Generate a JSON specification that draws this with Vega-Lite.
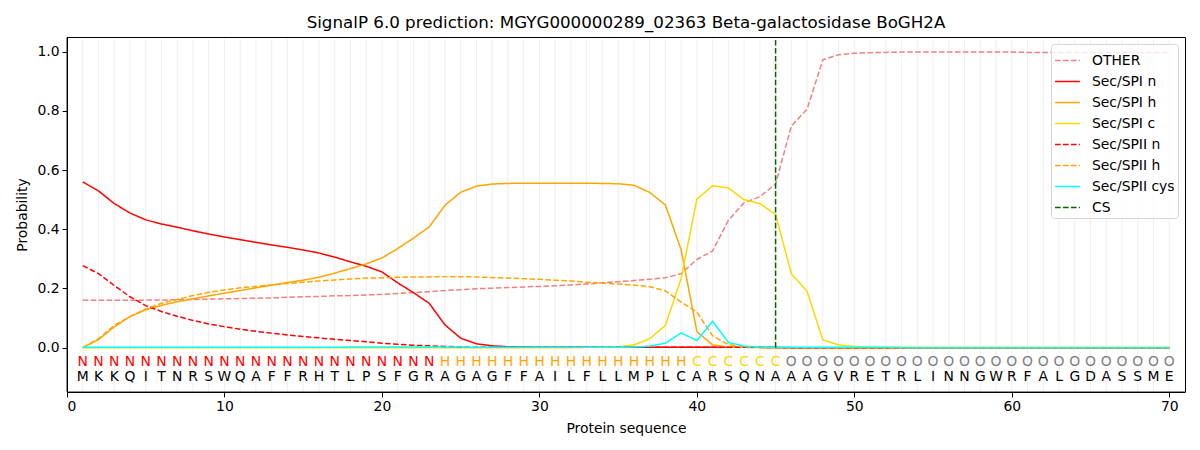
{
  "$schema": "https://vega.github.io/schema/vega-lite/v6.json",
  "width": 1118,
  "height": 355,
  "autosize": {"type": "none"},
  "padding": {"left": 67, "top": 37, "right": 15, "bottom": 58},
  "title": {
    "text": "SignalP 6.0 prediction: MGYG000000289_02363 Beta-galactosidase BoGH2A",
    "fontSize": 16.7,
    "fontWeight": "normal",
    "font": "DejaVu Sans",
    "color": "black",
    "offset": 5
  },
  "config": {
    "view": {"stroke": null},
    "font": "DejaVu Sans",
    "axis": {
      "grid": false,
      "domainColor": "black",
      "tickColor": "black",
      "labelColor": "black",
      "titleColor": "black",
      "labelFontSize": 13.9,
      "titleFontSize": 13.9,
      "titleFontWeight": "normal",
      "tickSize": 4.9,
      "labelPadding": 3,
      "labelFont": "DejaVu Sans",
      "titleFont": "DejaVu Sans"
    }
  },
  "datasets": {
    "seq": [
      {"pos": 1, "aa": "M", "lab": "N", "OTHER": 0.160, "Sec/SPI n": 0.560, "Sec/SPI h": 0.000, "Sec/SPI c": 0.000, "Sec/SPII n": 0.277, "Sec/SPII h": 0.000, "Sec/SPII cys": 0.001},
      {"pos": 2, "aa": "K", "lab": "N", "OTHER": 0.160, "Sec/SPI n": 0.530, "Sec/SPI h": 0.027, "Sec/SPI c": 0.000, "Sec/SPII n": 0.250, "Sec/SPII h": 0.030, "Sec/SPII cys": 0.001},
      {"pos": 3, "aa": "K", "lab": "N", "OTHER": 0.160, "Sec/SPI n": 0.487, "Sec/SPI h": 0.070, "Sec/SPI c": 0.000, "Sec/SPII n": 0.210, "Sec/SPII h": 0.075, "Sec/SPII cys": 0.001},
      {"pos": 4, "aa": "Q", "lab": "N", "OTHER": 0.160, "Sec/SPI n": 0.455, "Sec/SPI h": 0.105, "Sec/SPI c": 0.000, "Sec/SPII n": 0.172, "Sec/SPII h": 0.105, "Sec/SPII cys": 0.001},
      {"pos": 5, "aa": "I", "lab": "N", "OTHER": 0.161, "Sec/SPI n": 0.432, "Sec/SPI h": 0.128, "Sec/SPI c": 0.000, "Sec/SPII n": 0.142, "Sec/SPII h": 0.130, "Sec/SPII cys": 0.001},
      {"pos": 6, "aa": "T", "lab": "N", "OTHER": 0.161, "Sec/SPI n": 0.418, "Sec/SPI h": 0.143, "Sec/SPI c": 0.000, "Sec/SPII n": 0.122, "Sec/SPII h": 0.150, "Sec/SPII cys": 0.001},
      {"pos": 7, "aa": "N", "lab": "N", "OTHER": 0.162, "Sec/SPI n": 0.407, "Sec/SPI h": 0.155, "Sec/SPI c": 0.000, "Sec/SPII n": 0.106, "Sec/SPII h": 0.163, "Sec/SPII cys": 0.001},
      {"pos": 8, "aa": "R", "lab": "N", "OTHER": 0.163, "Sec/SPI n": 0.395, "Sec/SPI h": 0.165, "Sec/SPI c": 0.000, "Sec/SPII n": 0.092, "Sec/SPII h": 0.176, "Sec/SPII cys": 0.001},
      {"pos": 9, "aa": "S", "lab": "N", "OTHER": 0.164, "Sec/SPI n": 0.384, "Sec/SPI h": 0.175, "Sec/SPI c": 0.000, "Sec/SPII n": 0.080, "Sec/SPII h": 0.187, "Sec/SPII cys": 0.001},
      {"pos": 10, "aa": "W", "lab": "N", "OTHER": 0.165, "Sec/SPI n": 0.374, "Sec/SPI h": 0.184, "Sec/SPI c": 0.000, "Sec/SPII n": 0.071, "Sec/SPII h": 0.195, "Sec/SPII cys": 0.001},
      {"pos": 11, "aa": "Q", "lab": "N", "OTHER": 0.166, "Sec/SPI n": 0.365, "Sec/SPI h": 0.193, "Sec/SPI c": 0.000, "Sec/SPII n": 0.062, "Sec/SPII h": 0.202, "Sec/SPII cys": 0.001},
      {"pos": 12, "aa": "A", "lab": "N", "OTHER": 0.167, "Sec/SPI n": 0.356, "Sec/SPI h": 0.202, "Sec/SPI c": 0.000, "Sec/SPII n": 0.055, "Sec/SPII h": 0.207, "Sec/SPII cys": 0.001},
      {"pos": 13, "aa": "F", "lab": "N", "OTHER": 0.168, "Sec/SPI n": 0.347, "Sec/SPI h": 0.211, "Sec/SPI c": 0.000, "Sec/SPII n": 0.049, "Sec/SPII h": 0.212, "Sec/SPII cys": 0.001},
      {"pos": 14, "aa": "F", "lab": "N", "OTHER": 0.170, "Sec/SPI n": 0.339, "Sec/SPI h": 0.220, "Sec/SPI c": 0.000, "Sec/SPII n": 0.043, "Sec/SPII h": 0.217, "Sec/SPII cys": 0.001},
      {"pos": 15, "aa": "R", "lab": "N", "OTHER": 0.172, "Sec/SPI n": 0.330, "Sec/SPI h": 0.228, "Sec/SPI c": 0.000, "Sec/SPII n": 0.038, "Sec/SPII h": 0.221, "Sec/SPII cys": 0.001},
      {"pos": 16, "aa": "H", "lab": "N", "OTHER": 0.173, "Sec/SPI n": 0.320, "Sec/SPI h": 0.238, "Sec/SPI c": 0.000, "Sec/SPII n": 0.033, "Sec/SPII h": 0.225, "Sec/SPII cys": 0.001},
      {"pos": 17, "aa": "T", "lab": "N", "OTHER": 0.175, "Sec/SPI n": 0.306, "Sec/SPI h": 0.252, "Sec/SPI c": 0.000, "Sec/SPII n": 0.028, "Sec/SPII h": 0.229, "Sec/SPII cys": 0.001},
      {"pos": 18, "aa": "L", "lab": "N", "OTHER": 0.176, "Sec/SPI n": 0.290, "Sec/SPI h": 0.267, "Sec/SPI c": 0.000, "Sec/SPII n": 0.024, "Sec/SPII h": 0.232, "Sec/SPII cys": 0.002},
      {"pos": 19, "aa": "P", "lab": "N", "OTHER": 0.178, "Sec/SPI n": 0.275, "Sec/SPI h": 0.283, "Sec/SPI c": 0.000, "Sec/SPII n": 0.020, "Sec/SPII h": 0.235, "Sec/SPII cys": 0.002},
      {"pos": 20, "aa": "S", "lab": "N", "OTHER": 0.180, "Sec/SPI n": 0.256, "Sec/SPI h": 0.303, "Sec/SPI c": 0.000, "Sec/SPII n": 0.015, "Sec/SPII h": 0.236, "Sec/SPII cys": 0.002},
      {"pos": 21, "aa": "F", "lab": "N", "OTHER": 0.183, "Sec/SPI n": 0.219, "Sec/SPI h": 0.335, "Sec/SPI c": 0.000, "Sec/SPII n": 0.011, "Sec/SPII h": 0.238, "Sec/SPII cys": 0.002},
      {"pos": 22, "aa": "G", "lab": "N", "OTHER": 0.186, "Sec/SPI n": 0.186, "Sec/SPI h": 0.370, "Sec/SPI c": 0.000, "Sec/SPII n": 0.008, "Sec/SPII h": 0.239, "Sec/SPII cys": 0.002},
      {"pos": 23, "aa": "R", "lab": "N", "OTHER": 0.189, "Sec/SPI n": 0.150, "Sec/SPI h": 0.408, "Sec/SPI c": 0.000, "Sec/SPII n": 0.006, "Sec/SPII h": 0.239, "Sec/SPII cys": 0.002},
      {"pos": 24, "aa": "A", "lab": "H", "OTHER": 0.193, "Sec/SPI n": 0.077, "Sec/SPI h": 0.481, "Sec/SPI c": 0.000, "Sec/SPII n": 0.004, "Sec/SPII h": 0.240, "Sec/SPII cys": 0.002},
      {"pos": 25, "aa": "G", "lab": "H", "OTHER": 0.196, "Sec/SPI n": 0.032, "Sec/SPI h": 0.525, "Sec/SPI c": 0.000, "Sec/SPII n": 0.002, "Sec/SPII h": 0.240, "Sec/SPII cys": 0.002},
      {"pos": 26, "aa": "A", "lab": "H", "OTHER": 0.199, "Sec/SPI n": 0.013, "Sec/SPI h": 0.546, "Sec/SPI c": 0.000, "Sec/SPII n": 0.001, "Sec/SPII h": 0.239, "Sec/SPII cys": 0.001},
      {"pos": 27, "aa": "G", "lab": "H", "OTHER": 0.201, "Sec/SPI n": 0.006, "Sec/SPI h": 0.553, "Sec/SPI c": 0.000, "Sec/SPII n": 0.001, "Sec/SPII h": 0.237, "Sec/SPII cys": 0.001},
      {"pos": 28, "aa": "F", "lab": "H", "OTHER": 0.203, "Sec/SPI n": 0.003, "Sec/SPI h": 0.555, "Sec/SPI c": 0.000, "Sec/SPII n": 0.001, "Sec/SPII h": 0.235, "Sec/SPII cys": 0.001},
      {"pos": 29, "aa": "F", "lab": "H", "OTHER": 0.205, "Sec/SPI n": 0.002, "Sec/SPI h": 0.556, "Sec/SPI c": 0.000, "Sec/SPII n": 0.001, "Sec/SPII h": 0.233, "Sec/SPII cys": 0.001},
      {"pos": 30, "aa": "A", "lab": "H", "OTHER": 0.207, "Sec/SPI n": 0.001, "Sec/SPI h": 0.556, "Sec/SPI c": 0.000, "Sec/SPII n": 0.001, "Sec/SPII h": 0.231, "Sec/SPII cys": 0.001},
      {"pos": 31, "aa": "I", "lab": "H", "OTHER": 0.209, "Sec/SPI n": 0.001, "Sec/SPI h": 0.556, "Sec/SPI c": 0.000, "Sec/SPII n": 0.001, "Sec/SPII h": 0.228, "Sec/SPII cys": 0.001},
      {"pos": 32, "aa": "L", "lab": "H", "OTHER": 0.212, "Sec/SPI n": 0.001, "Sec/SPI h": 0.556, "Sec/SPI c": 0.000, "Sec/SPII n": 0.001, "Sec/SPII h": 0.225, "Sec/SPII cys": 0.001},
      {"pos": 33, "aa": "F", "lab": "H", "OTHER": 0.215, "Sec/SPI n": 0.001, "Sec/SPI h": 0.556, "Sec/SPI c": 0.001, "Sec/SPII n": 0.001, "Sec/SPII h": 0.221, "Sec/SPII cys": 0.001},
      {"pos": 34, "aa": "L", "lab": "H", "OTHER": 0.219, "Sec/SPI n": 0.001, "Sec/SPI h": 0.555, "Sec/SPI c": 0.002, "Sec/SPII n": 0.001, "Sec/SPII h": 0.218, "Sec/SPII cys": 0.001},
      {"pos": 35, "aa": "L", "lab": "H", "OTHER": 0.223, "Sec/SPI n": 0.001, "Sec/SPI h": 0.554, "Sec/SPI c": 0.003, "Sec/SPII n": 0.001, "Sec/SPII h": 0.215, "Sec/SPII cys": 0.001},
      {"pos": 36, "aa": "M", "lab": "H", "OTHER": 0.227, "Sec/SPI n": 0.001, "Sec/SPI h": 0.549, "Sec/SPI c": 0.009, "Sec/SPII n": 0.001, "Sec/SPII h": 0.211, "Sec/SPII cys": 0.002},
      {"pos": 37, "aa": "P", "lab": "H", "OTHER": 0.231, "Sec/SPI n": 0.001, "Sec/SPI h": 0.525, "Sec/SPI c": 0.030, "Sec/SPII n": 0.001, "Sec/SPII h": 0.206, "Sec/SPII cys": 0.005},
      {"pos": 38, "aa": "L", "lab": "H", "OTHER": 0.236, "Sec/SPI n": 0.001, "Sec/SPI h": 0.482, "Sec/SPI c": 0.075, "Sec/SPII n": 0.001, "Sec/SPII h": 0.192, "Sec/SPII cys": 0.015},
      {"pos": 39, "aa": "C", "lab": "H", "OTHER": 0.250, "Sec/SPI n": 0.001, "Sec/SPI h": 0.331, "Sec/SPI c": 0.233, "Sec/SPII n": 0.001, "Sec/SPII h": 0.154, "Sec/SPII cys": 0.050},
      {"pos": 40, "aa": "A", "lab": "C", "OTHER": 0.298, "Sec/SPI n": 0.001, "Sec/SPI h": 0.054, "Sec/SPI c": 0.502, "Sec/SPII n": 0.001, "Sec/SPII h": 0.120, "Sec/SPII cys": 0.024},
      {"pos": 41, "aa": "R", "lab": "C", "OTHER": 0.327, "Sec/SPI n": 0.001, "Sec/SPI h": 0.009, "Sec/SPI c": 0.547, "Sec/SPII n": 0.001, "Sec/SPII h": 0.040, "Sec/SPII cys": 0.089},
      {"pos": 42, "aa": "S", "lab": "C", "OTHER": 0.430, "Sec/SPI n": 0.001, "Sec/SPI h": 0.002, "Sec/SPI c": 0.540, "Sec/SPII n": 0.001, "Sec/SPII h": 0.010, "Sec/SPII cys": 0.018},
      {"pos": 43, "aa": "Q", "lab": "C", "OTHER": 0.490, "Sec/SPI n": 0.001, "Sec/SPI h": 0.001, "Sec/SPI c": 0.500, "Sec/SPII n": 0.001, "Sec/SPII h": 0.003, "Sec/SPII cys": 0.005},
      {"pos": 44, "aa": "N", "lab": "C", "OTHER": 0.510, "Sec/SPI n": 0.001, "Sec/SPI h": 0.000, "Sec/SPI c": 0.487, "Sec/SPII n": 0.001, "Sec/SPII h": 0.001, "Sec/SPII cys": 0.002},
      {"pos": 45, "aa": "A", "lab": "C", "OTHER": 0.553, "Sec/SPI n": 0.001, "Sec/SPI h": 0.000, "Sec/SPI c": 0.450, "Sec/SPII n": 0.000, "Sec/SPII h": 0.000, "Sec/SPII cys": 0.001},
      {"pos": 46, "aa": "A", "lab": "O", "OTHER": 0.749, "Sec/SPI n": 0.000, "Sec/SPI h": 0.000, "Sec/SPI c": 0.250, "Sec/SPII n": 0.000, "Sec/SPII h": 0.000, "Sec/SPII cys": 0.001},
      {"pos": 47, "aa": "A", "lab": "O", "OTHER": 0.806, "Sec/SPI n": 0.000, "Sec/SPI h": 0.000, "Sec/SPI c": 0.190, "Sec/SPII n": 0.000, "Sec/SPII h": 0.000, "Sec/SPII cys": 0.001},
      {"pos": 48, "aa": "G", "lab": "O", "OTHER": 0.973, "Sec/SPI n": 0.000, "Sec/SPI h": 0.000, "Sec/SPI c": 0.026, "Sec/SPII n": 0.000, "Sec/SPII h": 0.000, "Sec/SPII cys": 0.001},
      {"pos": 49, "aa": "V", "lab": "O", "OTHER": 0.990, "Sec/SPI n": 0.000, "Sec/SPI h": 0.000, "Sec/SPI c": 0.009, "Sec/SPII n": 0.000, "Sec/SPII h": 0.000, "Sec/SPII cys": 0.001},
      {"pos": 50, "aa": "R", "lab": "O", "OTHER": 0.995, "Sec/SPI n": 0.000, "Sec/SPI h": 0.000, "Sec/SPI c": 0.004, "Sec/SPII n": 0.000, "Sec/SPII h": 0.000, "Sec/SPII cys": 0.001},
      {"pos": 51, "aa": "E", "lab": "O", "OTHER": 0.997, "Sec/SPI n": 0.000, "Sec/SPI h": 0.000, "Sec/SPI c": 0.002, "Sec/SPII n": 0.000, "Sec/SPII h": 0.000, "Sec/SPII cys": 0.001},
      {"pos": 52, "aa": "T", "lab": "O", "OTHER": 0.998, "Sec/SPI n": 0.000, "Sec/SPI h": 0.000, "Sec/SPI c": 0.001, "Sec/SPII n": 0.000, "Sec/SPII h": 0.000, "Sec/SPII cys": 0.001},
      {"pos": 53, "aa": "R", "lab": "O", "OTHER": 0.999, "Sec/SPI n": 0.000, "Sec/SPI h": 0.000, "Sec/SPI c": 0.001, "Sec/SPII n": 0.000, "Sec/SPII h": 0.000, "Sec/SPII cys": 0.000},
      {"pos": 54, "aa": "L", "lab": "O", "OTHER": 0.999, "Sec/SPI n": 0.000, "Sec/SPI h": 0.000, "Sec/SPI c": 0.001, "Sec/SPII n": 0.000, "Sec/SPII h": 0.000, "Sec/SPII cys": 0.000},
      {"pos": 55, "aa": "I", "lab": "O", "OTHER": 0.999, "Sec/SPI n": 0.000, "Sec/SPI h": 0.000, "Sec/SPI c": 0.001, "Sec/SPII n": 0.000, "Sec/SPII h": 0.000, "Sec/SPII cys": 0.000},
      {"pos": 56, "aa": "N", "lab": "O", "OTHER": 0.999, "Sec/SPI n": 0.000, "Sec/SPI h": 0.000, "Sec/SPI c": 0.001, "Sec/SPII n": 0.000, "Sec/SPII h": 0.000, "Sec/SPII cys": 0.000},
      {"pos": 57, "aa": "N", "lab": "O", "OTHER": 0.999, "Sec/SPI n": 0.000, "Sec/SPI h": 0.000, "Sec/SPI c": 0.001, "Sec/SPII n": 0.000, "Sec/SPII h": 0.000, "Sec/SPII cys": 0.000},
      {"pos": 58, "aa": "G", "lab": "O", "OTHER": 0.999, "Sec/SPI n": 0.000, "Sec/SPI h": 0.000, "Sec/SPI c": 0.001, "Sec/SPII n": 0.000, "Sec/SPII h": 0.000, "Sec/SPII cys": 0.000},
      {"pos": 59, "aa": "W", "lab": "O", "OTHER": 0.999, "Sec/SPI n": 0.000, "Sec/SPI h": 0.000, "Sec/SPI c": 0.001, "Sec/SPII n": 0.000, "Sec/SPII h": 0.000, "Sec/SPII cys": 0.000},
      {"pos": 60, "aa": "R", "lab": "O", "OTHER": 0.999, "Sec/SPI n": 0.000, "Sec/SPI h": 0.000, "Sec/SPI c": 0.001, "Sec/SPII n": 0.000, "Sec/SPII h": 0.000, "Sec/SPII cys": 0.000},
      {"pos": 61, "aa": "F", "lab": "O", "OTHER": 0.998, "Sec/SPI n": 0.000, "Sec/SPI h": 0.000, "Sec/SPI c": 0.001, "Sec/SPII n": 0.000, "Sec/SPII h": 0.000, "Sec/SPII cys": 0.000},
      {"pos": 62, "aa": "A", "lab": "O", "OTHER": 0.998, "Sec/SPI n": 0.000, "Sec/SPI h": 0.000, "Sec/SPI c": 0.001, "Sec/SPII n": 0.000, "Sec/SPII h": 0.000, "Sec/SPII cys": 0.000},
      {"pos": 63, "aa": "L", "lab": "O", "OTHER": 0.998, "Sec/SPI n": 0.000, "Sec/SPI h": 0.000, "Sec/SPI c": 0.001, "Sec/SPII n": 0.000, "Sec/SPII h": 0.000, "Sec/SPII cys": 0.000},
      {"pos": 64, "aa": "G", "lab": "O", "OTHER": 0.998, "Sec/SPI n": 0.000, "Sec/SPI h": 0.000, "Sec/SPI c": 0.001, "Sec/SPII n": 0.000, "Sec/SPII h": 0.000, "Sec/SPII cys": 0.000},
      {"pos": 65, "aa": "D", "lab": "O", "OTHER": 0.998, "Sec/SPI n": 0.000, "Sec/SPI h": 0.000, "Sec/SPI c": 0.001, "Sec/SPII n": 0.000, "Sec/SPII h": 0.000, "Sec/SPII cys": 0.000},
      {"pos": 66, "aa": "A", "lab": "O", "OTHER": 0.998, "Sec/SPI n": 0.000, "Sec/SPI h": 0.000, "Sec/SPI c": 0.001, "Sec/SPII n": 0.000, "Sec/SPII h": 0.000, "Sec/SPII cys": 0.000},
      {"pos": 67, "aa": "S", "lab": "O", "OTHER": 0.998, "Sec/SPI n": 0.000, "Sec/SPI h": 0.000, "Sec/SPI c": 0.001, "Sec/SPII n": 0.000, "Sec/SPII h": 0.000, "Sec/SPII cys": 0.000},
      {"pos": 68, "aa": "S", "lab": "O", "OTHER": 0.998, "Sec/SPI n": 0.000, "Sec/SPI h": 0.000, "Sec/SPI c": 0.001, "Sec/SPII n": 0.000, "Sec/SPII h": 0.000, "Sec/SPII cys": 0.000},
      {"pos": 69, "aa": "M", "lab": "O", "OTHER": 0.998, "Sec/SPI n": 0.000, "Sec/SPI h": 0.000, "Sec/SPI c": 0.001, "Sec/SPII n": 0.000, "Sec/SPII h": 0.000, "Sec/SPII cys": 0.000},
      {"pos": 70, "aa": "E", "lab": "O", "OTHER": 0.998, "Sec/SPI n": 0.000, "Sec/SPI h": 0.000, "Sec/SPI c": 0.001, "Sec/SPII n": 0.000, "Sec/SPII h": 0.000, "Sec/SPII cys": 0.000}
    ],
    "cs": [
      {"pos": 45, "p": 0, "series": "CS"},
      {"pos": 45, "p": 1.04, "series": "CS"}
    ],
    "frame": [
      {"x0": 0, "x1": 71, "y0": -0.15, "y1": 1.05}
    ]
  },
  "layer": [
    {
      "data": {"name": "seq"},
      "mark": {"type": "rule", "color": "#efefef", "strokeWidth": 1},
      "encoding": {
        "x": {"field": "pos", "type": "quantitative"},
        "y": {"datum": -0.147},
        "y2": {"datum": 1.044}
      }
    },
    {
      "data": {"name": "seq"},
      "transform": [
        {"fold": ["OTHER", "Sec/SPI n", "Sec/SPI h", "Sec/SPI c", "Sec/SPII n", "Sec/SPII h", "Sec/SPII cys"], "as": ["series", "p"]}
      ],
      "mark": {"type": "line", "strokeWidth": 1.5},
      "encoding": {
        "x": {
          "field": "pos",
          "type": "quantitative",
          "scale": {"domain": [0, 71], "nice": false, "zero": false},
          "axis": {"values": [0, 10, 20, 30, 40, 50, 60, 70], "title": "Protein sequence", "titlePadding": 8}
        },
        "y": {
          "field": "p",
          "type": "quantitative",
          "scale": {"domain": [-0.15, 1.05], "nice": false, "zero": false},
          "axis": {"values": [0, 0.2, 0.4, 0.6, 0.8, 1.0], "format": ".1f", "title": "Probability", "titlePadding": 8}
        },
        "color": {
          "field": "series",
          "type": "nominal",
          "title": null,
          "scale": {
            "domain": ["OTHER", "Sec/SPI n", "Sec/SPI h", "Sec/SPI c", "Sec/SPII n", "Sec/SPII h", "Sec/SPII cys", "CS"],
            "range": ["#f08080", "#ff0000", "#ffa500", "#ffd700", "#ff0000", "#ffa500", "#00ffff", "#006400"]
          },
          "legend": {
            "orient": "top-right",
            "offset": 7,
            "symbolType": "stroke",
            "symbolSize": 620,
            "symbolStrokeWidth": 1.5,
            "labelFontSize": 13.9,
            "labelFont": "DejaVu Sans",
            "labelColor": "black",
            "fillColor": "rgba(255,255,255,0.8)",
            "strokeColor": "#d5d5d5",
            "cornerRadius": 3,
            "padding": 3,
            "rowPadding": 0,
            "labelOffset": 11
          }
        },
        "strokeDash": {
          "field": "series",
          "type": "nominal",
          "title": null,
          "scale": {
            "domain": ["OTHER", "Sec/SPI n", "Sec/SPI h", "Sec/SPI c", "Sec/SPII n", "Sec/SPII h", "Sec/SPII cys", "CS"],
            "range": [[5.55, 2.4], [1, 0], [1, 0], [1, 0], [5.55, 2.4], [5.55, 2.4], [1, 0], [5.55, 2.4]]
          }
        }
      }
    },
    {
      "data": {"name": "cs"},
      "mark": {"type": "line", "strokeWidth": 1.5},
      "encoding": {
        "x": {"field": "pos", "type": "quantitative"},
        "y": {"field": "p", "type": "quantitative"},
        "color": {"field": "series", "type": "nominal"},
        "strokeDash": {"field": "series", "type": "nominal"}
      }
    },
    {
      "data": {"name": "seq"},
      "mark": {"type": "text", "fontSize": 13.9, "font": "DejaVu Sans", "baseline": "middle"},
      "encoding": {
        "x": {"field": "pos", "type": "quantitative"},
        "y": {"datum": -0.05},
        "text": {"field": "lab"},
        "color": {
          "condition": [
            {"test": "datum.lab === 'N'", "value": "#ff0000"},
            {"test": "datum.lab === 'H'", "value": "#ffa500"},
            {"test": "datum.lab === 'C'", "value": "#ffd700"}
          ],
          "value": "#808080"
        }
      }
    },
    {
      "data": {"name": "seq"},
      "mark": {"type": "text", "fontSize": 13.9, "font": "DejaVu Sans", "baseline": "middle", "color": "black"},
      "encoding": {
        "x": {"field": "pos", "type": "quantitative"},
        "y": {"datum": -0.1},
        "text": {"field": "aa"}
      }
    },
    {
      "data": {"name": "frame"},
      "mark": {"type": "rect", "fill": null, "stroke": "black", "strokeWidth": 1, "strokeDash": [1, 0], "y2Offset": 0.5, "x2Offset": 0.5},
      "encoding": {
        "x": {"field": "x0", "type": "quantitative"},
        "x2": {"field": "x1"},
        "y": {"field": "y0", "type": "quantitative"},
        "y2": {"field": "y1"}
      }
    }
  ]
}
